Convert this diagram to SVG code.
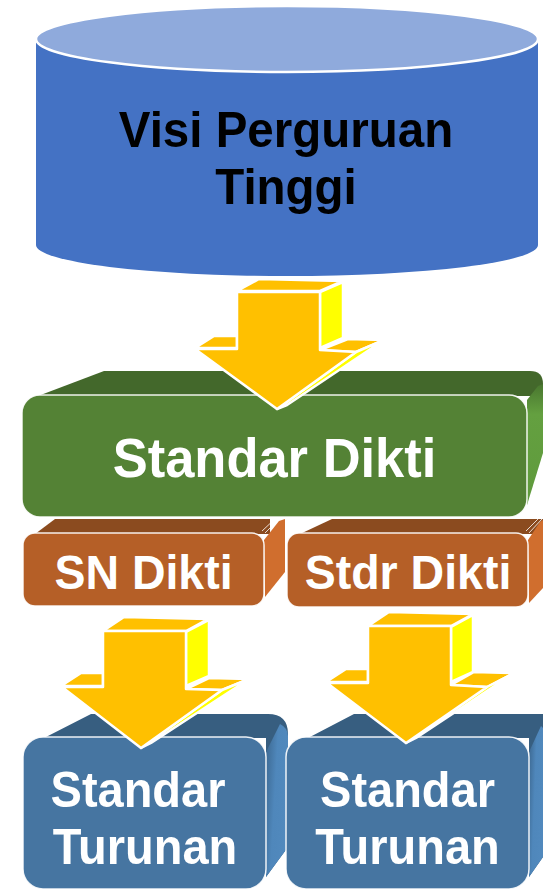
<svg xmlns="http://www.w3.org/2000/svg" width="543" height="891" viewBox="0 0 543 891">
  <defs>
    <linearGradient id="gSide" x1="0" y1="0" x2="0" y2="1">
      <stop offset="0" stop-color="#49762f"/>
      <stop offset="0.25" stop-color="#64a040"/>
      <stop offset="1" stop-color="#5f9a3c"/>
    </linearGradient>
    <linearGradient id="bSide" x1="0" y1="0" x2="1" y2="0.4">
      <stop offset="0" stop-color="#3b668e"/>
      <stop offset="0.5" stop-color="#4f87bb"/>
      <stop offset="1" stop-color="#5189bd"/>
    </linearGradient>
    <style>
      .lbl { font-family: "Liberation Sans", Arial, sans-serif; font-weight: bold; text-anchor: middle; }
      .w { fill: #ffffff; }
      .face { stroke: #ffffff; stroke-width: 1.5; stroke-opacity: 0.9; }
      .green { fill: #548235; }
      .greenTop { fill: #43682b; }
      .orange { fill: #b55f27; }
      .orangeTop { fill: #8b4b1f; }
      .orangeSide { fill: #d06e2e; }
      .blue { fill: #4675a1; }
      .blueTop { fill: #375e80; }
      .arrow polygon { stroke: #ffffff; stroke-width: 2.5; stroke-linejoin: round; }
      .af { fill: #ffc000; }
      .as { fill: #ffff00; }
      .bevel { stroke: #ffffff; stroke-width: 1; fill: none; stroke-opacity: 0.8; }
    </style>
  </defs>

  <!-- vision cylinder -->
  <g id="visi">
    <path d="M36,39 L36,245 A251,31 0 0 0 538,245 L538,39 Z" fill="#4472c4"/>
    <ellipse cx="287" cy="39" rx="251" ry="33" fill="#8faadc" stroke="#ffffff" stroke-width="2.5"/>
    <text class="lbl" transform="translate(286,147) scale(1,1.05)" font-size="47.5" fill="#000000">Visi Perguruan</text>
    <text class="lbl" transform="translate(286,204) scale(1,1.05)" font-size="47.5" fill="#000000">Tinggi</text>
  </g>

  <!-- national standard block -->
  <g id="standar-dikti">
    <path class="greenTop" d="M38,396 L104,371 L530,371 Q543,371 543,384 L543,396 Z"/>
    <path fill="url(#gSide)" d="M527,400 L538,386 L543,384 L543,453 L527,505 Z"/>
    <rect class="green face" x="22" y="395" width="505" height="122" rx="18"/>
    <text class="lbl w" transform="translate(274.5,477) scale(1,1.05)" font-size="52.5">Standar Dikti</text>
  </g>

  <g id="sn-dikti">
    <path class="orangeTop" d="M35,534 L55,519 L270,519 L270,534 Z"/>
    <path class="orangeSide" d="M264,540 L279,521 L285,519 L285,572 L265,597 Z"/>
    <path class="bevel" d="M262,531 L276,518 M265,533 L280,518"/>
    <rect class="orange face" x="23" y="533" width="241" height="73" rx="12"/>
    <text class="lbl w" transform="translate(143.5,589) scale(1,1.05)" font-size="46.5">SN Dikti</text>
  </g>

  <g id="stdr-dikti">
    <path class="orangeTop" d="M300,534 L332,519 L543,519 L543,534 Z"/>
    <path class="orangeSide" d="M528,540 L540,522 L543,520 L543,588 L529,603 Z"/>
    <path class="bevel" d="M526,531 L538,519 M529,533 L542,519"/>
    <rect class="orange face" x="287" y="533" width="241" height="74" rx="12"/>
    <text class="lbl w" transform="translate(408,589) scale(1,1.05)" font-size="46.5">Stdr Dikti</text>
  </g>

  <g id="turunan-1">
    <path class="blueTop" d="M44,738 L91,714 L268,714 Q288,714 288,734 L288,847 L266,877 L266,738 Z"/>
    <path fill="url(#bSide)" d="M266,752 L280,724 Q288,728 288,736 L288,847 L266,877 Z"/>
    <rect class="blue face" x="23" y="737" width="243" height="152" rx="20"/>
    <text class="lbl w" transform="translate(138,807) scale(1,1.05)" font-size="47">Standar</text>
    <text class="lbl w" transform="translate(145,864) scale(1,1.05)" font-size="47">Turunan</text>
  </g>

  <g id="turunan-2">
    <path class="blueTop" d="M308,738 L354,714 L543,714 L543,857 L529,877 L529,738 Z"/>
    <path fill="url(#bSide)" d="M529,752 L541,726 L543,728 L543,857 L529,877 Z"/>
    <rect class="blue face" x="286" y="737" width="243" height="152" rx="20"/>
    <text class="lbl w" transform="translate(407.5,807) scale(1,1.05)" font-size="47">Standar</text>
    <text class="lbl w" transform="translate(407.5,864) scale(1,1.05)" font-size="47">Turunan</text>
  </g>

  <!-- block arrows -->
  <g id="connectors">
    <g class="arrow">
      <polygon class="af" points="237,291 259,279 343,281 320,291"/>
      <polygon class="as" points="320,292 343,282 343,338 320,348"/>
      <polygon class="af" points="195,348 214,336 237,336 237,348"/>
      <polygon class="af" points="320,350 348,339 384,340 356,352"/>
      <polygon class="as" points="356,352 384,340 287,405 277,409"/>
      <polygon class="af" points="237,292 320,292 320,350 356,352 277,409 195,349 237,349"/>
    </g>
    <g class="arrow">
      <polygon class="af" points="103,631 124,617 208,619 186,631"/>
      <polygon class="as" points="186,632 209,620 209,676 186,686"/>
      <polygon class="af" points="61,686 81,673 103,673 103,686"/>
      <polygon class="af" points="186,689 209,678 249,679 222,690"/>
      <polygon class="as" points="222,690 249,679 151,743 141,748"/>
      <polygon class="af" points="103,631 186,631 186,689 222,690 141,748 62,687 103,687"/>
    </g>
    <g class="arrow">
      <polygon class="af" points="368,626 389,612 473,614 451,626"/>
      <polygon class="as" points="451,627 473,615 473,672 451,682"/>
      <polygon class="af" points="326,682 346,669 368,669 368,682"/>
      <polygon class="af" points="451,685 474,672 514,673 487,687"/>
      <polygon class="as" points="487,687 514,673 416,738 406,743"/>
      <polygon class="af" points="368,626 451,626 451,685 487,687 406,743 327,683 368,683"/>
    </g>
  </g>
</svg>
